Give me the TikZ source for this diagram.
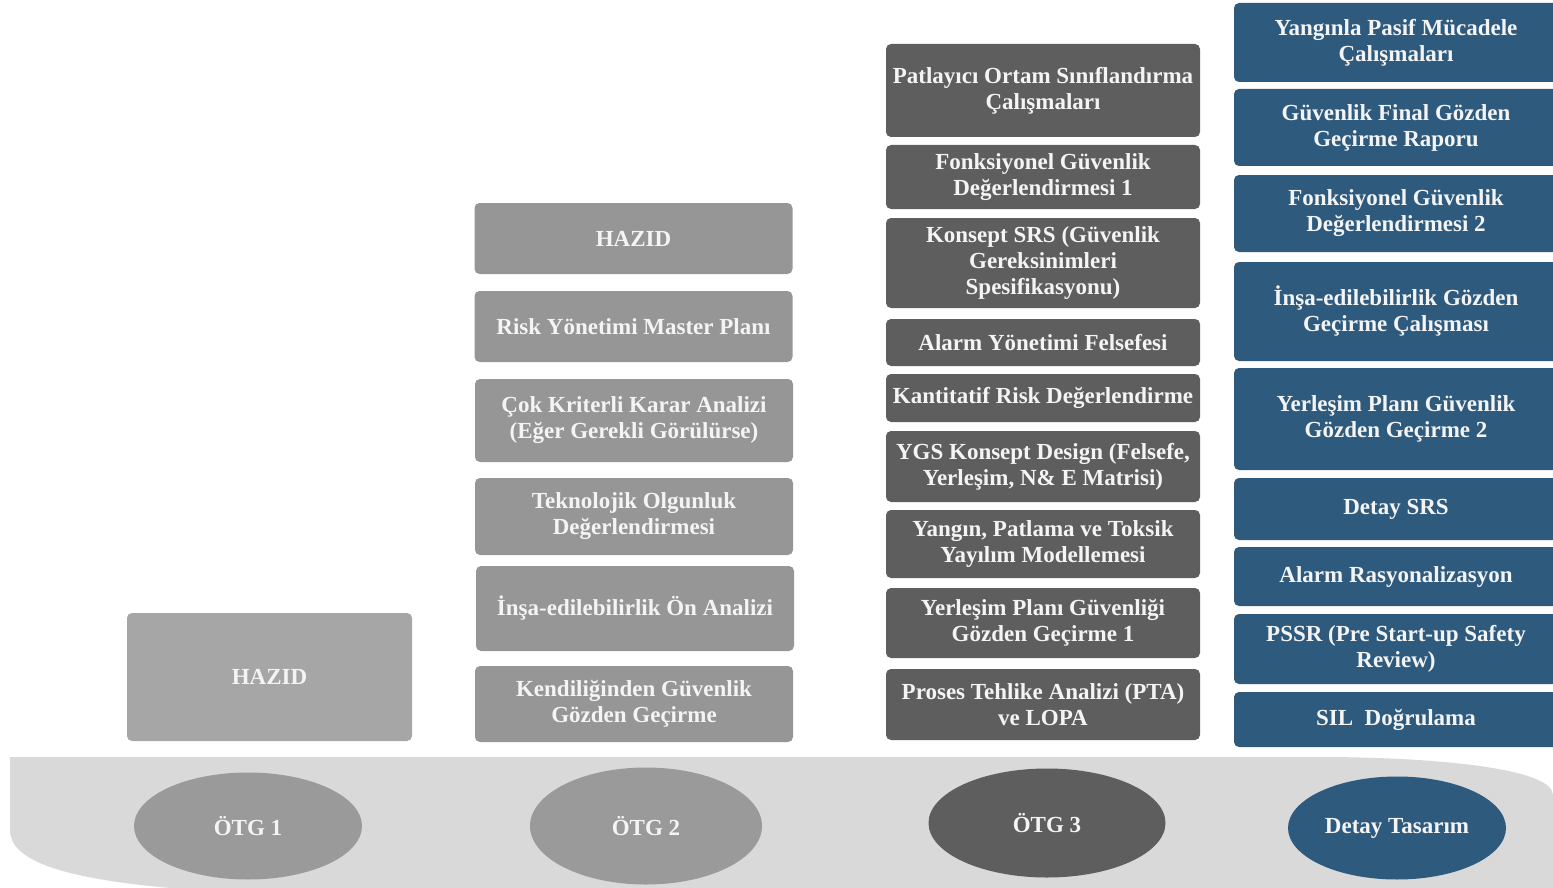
\documentclass[tikz,border=0pt]{standalone}
\usepackage{fontspec}
\setmainfont{Liberation Serif}
\usetikzlibrary{shapes.geometric}
\definecolor{bandgray}{HTML}{D9D9D9}
\definecolor{lightbox}{HTML}{A6A6A6}
\definecolor{midbox}{HTML}{969696}
\definecolor{darkbox}{HTML}{5E5E5E}
\definecolor{bluebox}{HTML}{2E5A7E}
\definecolor{ovalgray}{HTML}{9A9A9A}
\definecolor{labeltext}{HTML}{F4F4F4}
\begin{document}
\begin{tikzpicture}[x=0.5pt,y=-0.5pt,
  every node/.style={font=\bfseries\fontsize{11.5}{13}\selectfont, text=labeltext, align=center, inner sep=0pt},
  card/.style={rectangle, rounded corners=2.5pt},
  c1/.style={card, fill=lightbox},
  c2/.style={card, fill=midbox, minimum width=159pt},
  c3/.style={card, fill=darkbox, minimum width=157pt},
  c4/.style={card, fill=bluebox, minimum width=162pt},
  phase/.style={ellipse}
]
\useasboundingbox (0,0) rectangle (1553,888);

% ground band carrying the phase labels
\fill[bandgray] (10,757) -- (1330,757)
  .. controls (1450,758) and (1553,770) .. (1553,795)
  -- (1553,888) -- (170,888)
  .. controls (60,878) and (10,860) .. (10,830) -- cycle;

% phase 1
\node[c1, minimum width=142.5pt, minimum height=64pt] (a1) at (269.5,677) {HAZID};

% phase 2
\node[c2, minimum height=35.5pt] (b1) at (633.5,238.5) {HAZID};
\node[c2, minimum height=35.5pt] (b2) at (633.5,326.5) {Risk Yönetimi Master Planı};
\node[c2, minimum height=41.5pt] (b3) at (634,420.5) {Çok Kriterli Karar Analizi\\(Eğer Gerekli Görülürse)};
\node[c2, minimum height=38.5pt] (b4) at (634,516.5) {Teknolojik Olgunluk\\Değerlendirmesi};
\node[c2, minimum height=42.5pt] (b5) at (635,608.5) {İnşa-edilebilirlik Ön Analizi};
\node[c2, minimum height=38pt] (b6) at (634,704) {Kendiliğinden Güvenlik\\Gözden Geçirme};

% phase 3
\node[c3, minimum height=46.5pt] (c1) at (1043,90.5) {Patlayıcı Ortam Sınıflandırma\\Çalışmaları};
\node[c3, minimum height=32pt] (c2) at (1043,177) {Fonksiyonel Güvenlik\\Değerlendirmesi 1};
\node[c3, minimum height=45pt] (c3) at (1043,263) {Konsept SRS (Güvenlik\\Gereksinimleri\\Spesifikasyonu)};
\node[c3, minimum height=23.5pt] (c4) at (1043,342.5) {Alarm Yönetimi Felsefesi};
\node[c3, minimum height=24pt] (c5) at (1043,398) {Kantitatif Risk Değerlendirme};
\node[c3, minimum height=35.5pt] (c6) at (1043,466.5) {YGS Konsept Design (Felsefe,\\Yerleşim, N\& E Matrisi)};
\node[c3, minimum height=34pt] (c7) at (1043,544) {Yangın, Patlama ve Toksik\\Yayılım Modellemesi};
\node[c3, minimum height=35pt] (c8) at (1043,623) {Yerleşim Planı Güvenliği\\Gözden Geçirme 1};
\node[c3, minimum height=35.5pt] (c9) at (1043,704.5) {Proses Tehlike Analizi (PTA)\\ve LOPA};

% detailed design
\node[c4, minimum height=39.5pt] (d1) at (1396,42.5) {Yangınla Pasif Mücadele\\Çalışmaları};
\node[c4, minimum height=38.5pt] (d2) at (1396,127.5) {Güvenlik Final Gözden\\Geçirme Raporu};
\node[c4, minimum height=38.5pt] (d3) at (1396,213.5) {Fonksiyonel Güvenlik\\Değerlendirmesi 2};
\node[c4, minimum height=49.5pt] (d4) at (1396,311.5) {İnşa-edilebilirlik Gözden\\Geçirme Çalışması};
\node[c4, minimum height=51pt] (d5) at (1396,419) {Yerleşim Planı Güvenlik\\Gözden Geçirme 2};
\node[c4, minimum height=31pt] (d6) at (1396,509) {Detay SRS};
\node[c4, minimum height=29.5pt] (d7) at (1396,576.5) {Alarm Rasyonalizasyon};
\node[c4, minimum height=35pt] (d8) at (1396,649) {PSSR (Pre Start-up Safety\\Review)};
\node[c4, minimum height=27.5pt] (d9) at (1396,719.5) {SIL\ \ Doğrulama};

% phase ovals
\node[phase, fill=ovalgray, minimum width=114pt, minimum height=53.5pt] (p1) at (248,826) {ÖTG 1};
\node[phase, fill=ovalgray, minimum width=116pt, minimum height=58.5pt] (p2) at (646,826) {ÖTG 2};
\node[phase, fill=darkbox, minimum width=118.5pt, minimum height=54.5pt] (p3) at (1047,823) {ÖTG 3};
\node[phase, fill=bluebox, minimum width=109pt, minimum height=51.5pt] (p4) at (1397,828) {Detay Tasarım};
\end{tikzpicture}
\end{document}
